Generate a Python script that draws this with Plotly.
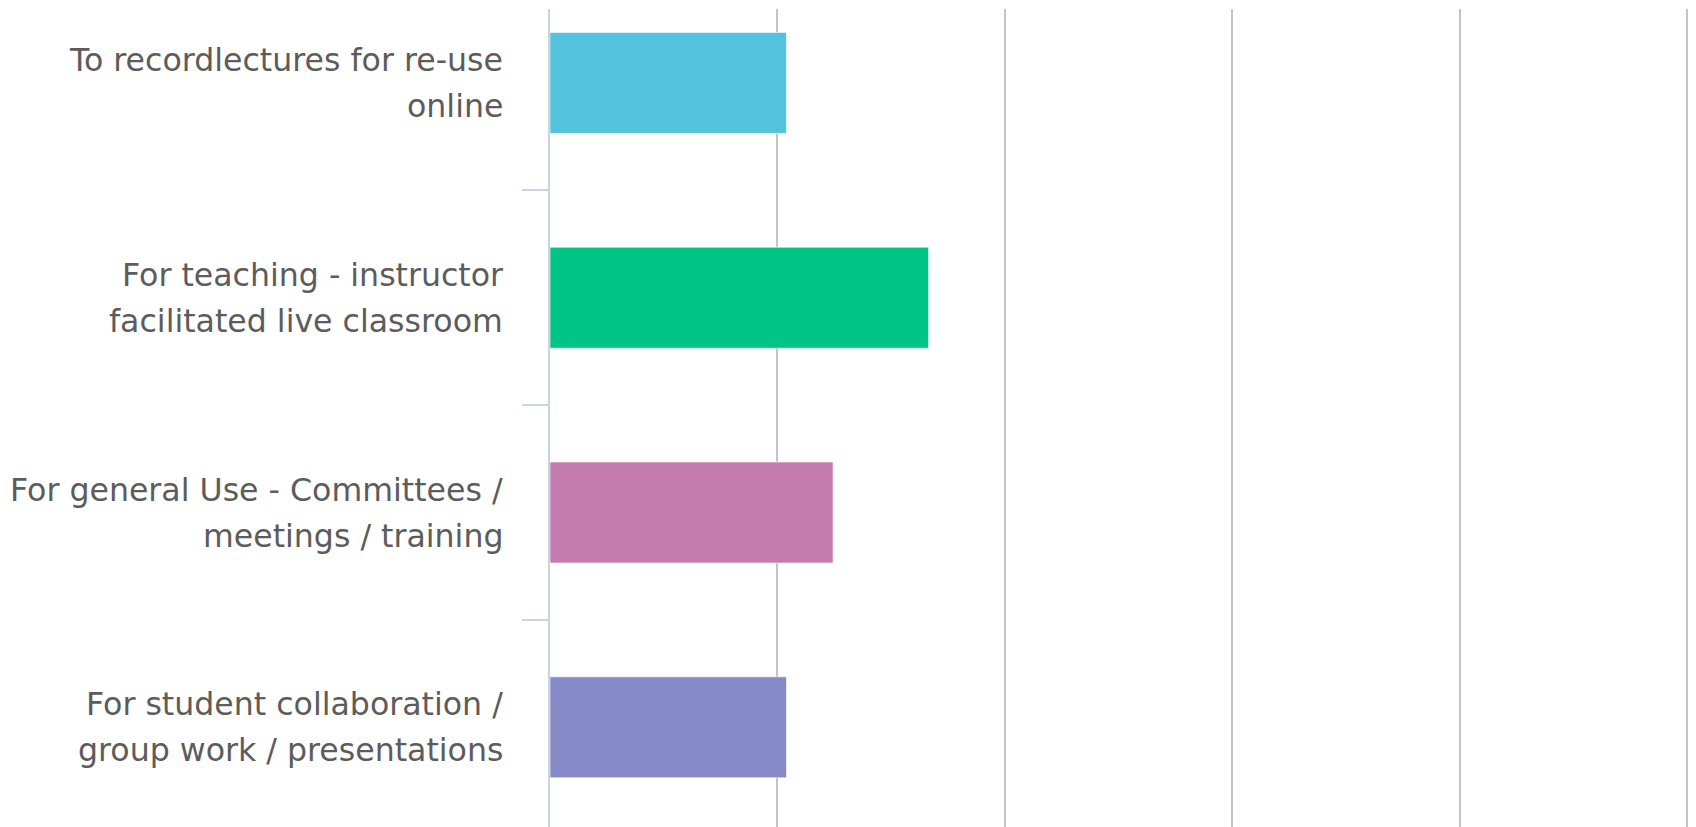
import plotly.graph_objects as go

categories = [
    ["To recordlectures for re-use", "online"],
    ["For teaching - instructor", "facilitated live classroom"],
    ["For general Use - Committees /", "meetings / training"],
    ["For student collaboration /", "group work / presentations"],
]
values = [10.4, 16.65, 12.45, 10.4]
colors = ["#52C3DC", "#00C386", "#C47BB0", "#8589C6"]

labels = ["<br>".join(c) for c in categories]

fig = go.Figure()
fig.add_trace(go.Bar(
    y=labels, x=values, orientation="h",
    marker=dict(color=colors, line=dict(color="rgba(255,255,255,0.6)", width=1)),
    width=0.47,
))

annotations = []
for lab, lines in zip(labels, categories):
    for i, line in enumerate(lines):
        annotations.append(dict(
            x=0, y=lab, xref="x", yref="y", text=line, showarrow=False,
            xanchor="right", yanchor="middle", xshift=-45,
            yshift=23 if i == 0 else -23,
            font=dict(family="DejaVu Sans", size=31.6, color="#5c5c5c"),
        ))

fig.update_layout(
    width=1696, height=827,
    margin=dict(l=550, r=0, t=9, b=0),
    paper_bgcolor="white", plot_bgcolor="white",
    showlegend=False,
    annotations=annotations,
)
fig.update_xaxes(
    range=[0, 50.4], dtick=10, tick0=0, showgrid=True, gridcolor="#c4c4c4", gridwidth=2,
    showticklabels=False, zeroline=False, showline=False, ticks="",
)
fig.update_yaxes(
    categoryorder="array", categoryarray=labels,
    range=[3.464, -0.344], showticklabels=False, showgrid=False,
    showline=True, linecolor="#c8d4e0", linewidth=2,
    ticks="outside", tickson="boundaries", ticklen=26, tickcolor="#c8d4e0", tickwidth=2,
    zeroline=False,
)
fig.write_html(
    "out.html",
    config={"displayModeBar": False},
    post_script="document.body.style.margin='0';document.body.style.overflow='hidden';",
)
